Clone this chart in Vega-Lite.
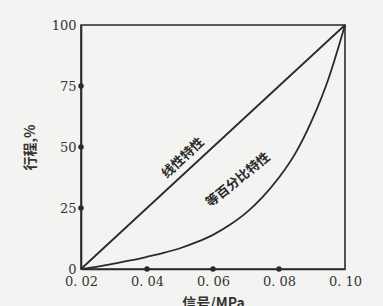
{
  "$schema": "https://vega.github.io/schema/vega-lite/v6.json",
  "width": 264,
  "height": 244,
  "autosize": "none",
  "padding": {"left": 81, "top": 25, "right": 38, "bottom": 37},
  "background": "#f3f3f1",
  "config": {
    "view": {"stroke": "#2a2a2a", "strokeWidth": 1.6},
    "axis": {"grid": false, "domainColor": "#2a2a2a", "domainWidth": 1.6, "ticks": false, "labelFont": "DejaVu Serif", "labelFontSize": 13, "labelColor": "#333", "titleFont": "Noto Sans CJK SC", "titleColor": "#333"}
  },
  "datasets": {
    "curves": [
      {"x": 0.02, "y": 0, "s": "linear"},
      {"x": 0.10, "y": 100, "s": "linear"},
      {"x": 0.02, "y": 0, "s": "eq"},
      {"x": 0.025, "y": 1, "s": "eq"},
      {"x": 0.03, "y": 2.2, "s": "eq"},
      {"x": 0.035, "y": 3.5, "s": "eq"},
      {"x": 0.04, "y": 5, "s": "eq"},
      {"x": 0.045, "y": 6.6, "s": "eq"},
      {"x": 0.05, "y": 8.5, "s": "eq"},
      {"x": 0.055, "y": 11, "s": "eq"},
      {"x": 0.06, "y": 14, "s": "eq"},
      {"x": 0.065, "y": 18, "s": "eq"},
      {"x": 0.07, "y": 23, "s": "eq"},
      {"x": 0.075, "y": 29.5, "s": "eq"},
      {"x": 0.08, "y": 37.5, "s": "eq"},
      {"x": 0.085, "y": 47.5, "s": "eq"},
      {"x": 0.09, "y": 61, "s": "eq"},
      {"x": 0.095, "y": 78, "s": "eq"},
      {"x": 0.1, "y": 100, "s": "eq"}
    ],
    "dots": [
      {"x": 0.02, "y": 25}, {"x": 0.02, "y": 50}, {"x": 0.02, "y": 75},
      {"x": 0.04, "y": 0}, {"x": 0.06, "y": 0}, {"x": 0.08, "y": 0}
    ],
    "labels": [
      {"x": 0.0509, "y": 45.5, "t": "线性特性", "a": -43},
      {"x": 0.0676, "y": 36.5, "t": "等百分比特性", "a": -39}
    ]
  },
  "layer": [
    {
      "data": {"name": "curves"},
      "mark": {"type": "line", "interpolate": "monotone", "color": "#2a2a2a", "strokeWidth": 1.8, "clip": false},
      "encoding": {
        "x": {"field": "x", "type": "quantitative", "scale": {"domain": [0.02, 0.1], "nice": false, "zero": false},
          "axis": {"values": [0.02, 0.04, 0.06, 0.08, 0.1], "labelExpr": "replace(format(datum.value, '.2f'), '.', '. ')", "labelPadding": 6, "title": "信号/MPa", "titleFontSize": 14, "titleFontWeight": "bold", "titlePadding": 8, "labelFlush": false}},
        "y": {"field": "y", "type": "quantitative", "scale": {"domain": [0, 100], "nice": false},
          "axis": {"values": [0, 25, 50, 75, 100], "labelPadding": 5, "title": "行程,%", "titleFontSize": 14, "titleFontWeight": "bold", "titlePadding": 14}},
        "detail": {"field": "s"}
      }
    },
    {
      "data": {"name": "dots"},
      "mark": {"type": "point", "filled": true, "color": "#2a2a2a", "size": 30, "opacity": 1, "clip": false},
      "encoding": {
        "x": {"field": "x", "type": "quantitative"},
        "y": {"field": "y", "type": "quantitative"}
      }
    },
    {
      "data": {"name": "labels"},
      "mark": {"type": "text", "font": "Noto Sans CJK SC", "fontSize": 13, "fontWeight": "bold", "color": "#2a2a2a"},
      "encoding": {
        "x": {"field": "x", "type": "quantitative"},
        "y": {"field": "y", "type": "quantitative"},
        "text": {"field": "t"},
        "angle": {"field": "a", "type": "quantitative", "scale": null}
      }
    }
  ]
}
